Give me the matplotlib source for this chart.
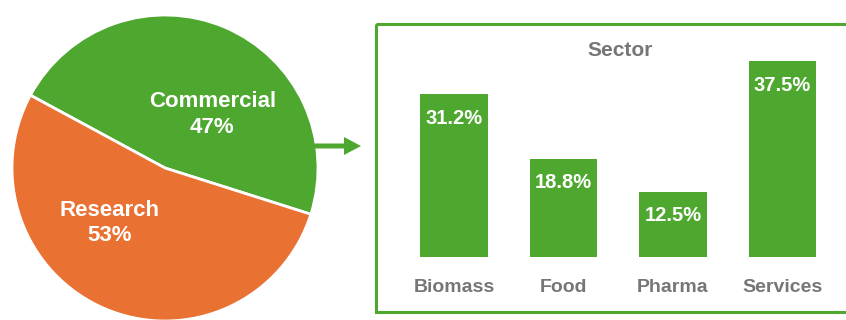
import numpy as np
import matplotlib.pyplot as plt
from matplotlib.patches import Rectangle, FancyArrow

plt.rcParams['font.family'] = ['Liberation Sans', 'DejaVu Sans']

# Données
pie_labels = ['Commercial', 'Research']
pie_values = [47, 53]
sectors = ['Biomass', 'Food', 'Pharma', 'Services']
sector_values = [31.2, 18.8, 12.5, 37.5]

green = '#4EA72E'
orange = '#E97132'
grey = '#767676'

W, H = 846, 320
fig = plt.figure(figsize=(W / 100, H / 100), dpi=100)

# Camembert (centre ~ (165,168) px, rayon ~153 px)
cx, cy, r = 165, 168, 153
ax_pie = fig.add_axes([(cx - r) / W, (H - cy - r) / H, 2 * r / W, 2 * r / H])
ax_pie.pie(pie_values, colors=[green, orange], startangle=-17.6, counterclock=True,
           wedgeprops=dict(edgecolor='white', linewidth=2))
ax_pie.set_xlim(-1, 1)
ax_pie.set_ylim(-1, 1)
ax_pie.set_aspect('equal')
ax_pie.axis('off')

label_pos = [(0.31, 0.35), (-0.36, -0.36)]
for (lx, ly), name, val in zip(label_pos, pie_labels, pie_values):
    ax_pie.text(lx, ly, f'{name}\n{val}%', ha='center', va='center', color='white',
                fontsize=16, fontweight='bold', linespacing=1.3)

# Barres
bar_bottom = 257
px_per_unit = 5.22
ymax = 40
x_left = 454 - 0.5 * 109.5
ax_bar = fig.add_axes([x_left / W, (H - bar_bottom) / H, 4 * 109.5 / W, ymax * px_per_unit / H])
x = np.arange(len(sectors))
bars = ax_bar.bar(x, sector_values, width=0.62, color=green)
ax_bar.set_xlim(-0.5, 3.5)
ax_bar.set_ylim(0, ymax)
ax_bar.set_xticks(x, sectors)
ax_bar.tick_params(axis='x', length=0, pad=16, labelsize=14, labelcolor=grey)
for lbl in ax_bar.get_xticklabels():
    lbl.set_fontweight('bold')
ax_bar.set_yticks([])
for s in ax_bar.spines.values():
    s.set_visible(False)
ax_bar.patch.set_alpha(0)
for b, v in zip(bars, sector_values):
    ax_bar.annotate(f'{v}%', (b.get_x() + b.get_width() / 2, v), xytext=(0, -24),
                    textcoords='offset pixels', ha='center', va='center',
                    color='white', fontsize=14.5, fontweight='bold')

# Cadre, titre et flèche
ax_over = fig.add_axes([0, 0, 1, 1])
ax_over.set_xlim(0, W)
ax_over.set_ylim(H, 0)
ax_over.axis('off')
ax_over.patch.set_alpha(0)
ax_over.add_patch(Rectangle((376, 24), 480, 288, fill=False, edgecolor=green, linewidth=2.2))
ax_over.add_patch(FancyArrow(314, 146, 47, 0, width=5, head_width=18, head_length=17,
                             length_includes_head=True, color=green, linewidth=0))
ax_over.text(620, 50, 'Sector', ha='center', va='center', color=grey,
             fontsize=15, fontweight='bold')

fig.savefig('out.png', dpi=100)
